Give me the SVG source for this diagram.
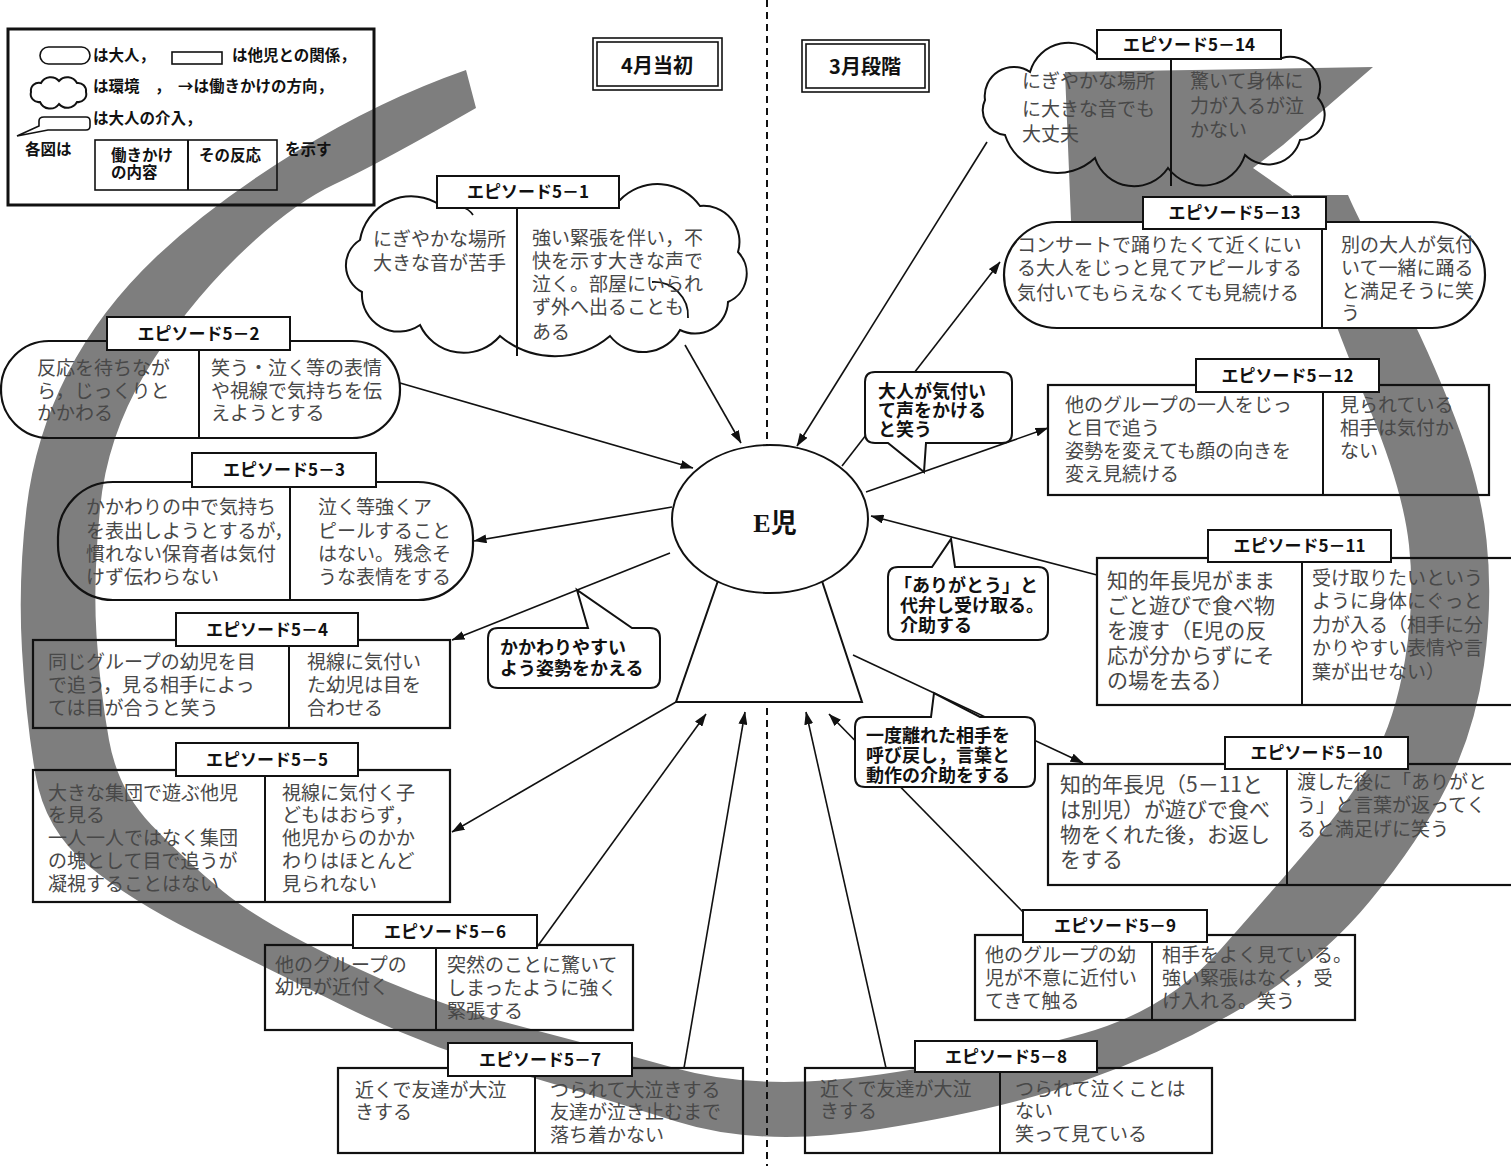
<svg xmlns="http://www.w3.org/2000/svg" width="1511" height="1166" viewBox="0 0 1511 1166">
<defs>
<style>
.body{font-family:"Noto Sans CJK JP","Noto Sans CJK SC",sans-serif;font-size:19px;fill:#484848}
.b21{font-size:21px}
.goth{font-family:"Noto Sans CJK JP","Noto Sans CJK SC",sans-serif;font-weight:700;fill:#111}
.lbl{font-size:17px;text-anchor:middle}
.call{font-size:18px}
.leg{font-size:15.5px}
.box{fill:none;stroke:#111;stroke-width:2.2}
.wbox{fill:#fff;stroke:#111;stroke-width:2.2}
.tag{fill:#fff;stroke:#111;stroke-width:2}
.thin{fill:none;stroke:#111;stroke-width:1.6}
.div{stroke:#111;stroke-width:2}
.cloud{fill:none;stroke:#111;stroke-width:2}
.crease{fill:none;stroke:#111;stroke-width:1.8}
#connectors line{stroke:#111;stroke-width:1.6;marker-end:url(#arr)}
</style>
<marker id="arr" viewBox="0 0 13 9" refX="12.5" refY="4.5" markerWidth="13" markerHeight="9" markerUnits="userSpaceOnUse" orient="auto">
<path d="M0,0 L13,4.5 L0,9 Z" fill="#111"/>
</marker>
</defs>

<rect width="1511" height="1166" fill="#fff"/>

<!-- large grey circular arrow running round the whole figure -->
<g id="cycle-arrow" fill="#7e7e7e">
<path d="M 466,70 Q 380,100 296.5,151.5 Q 213,203 156.5,256.5 Q 100,310 67.5,373.5 Q 35,437 26.5,508.5 Q 18,580 22,650 Q 26,720 35.5,775 Q 45,830 87.5,865 Q 130,900 195,932.5 Q 260,965 343.5,1006 Q 427,1047 510,1071 Q 593,1095 676.5,1121.5 Q 760,1148 880,1129 Q 1000,1110 1083.5,1081 Q 1167,1052 1243.5,1007 Q 1320,962 1370,901 Q 1420,840 1447.5,785 Q 1475,730 1484,665 Q 1493,600 1486.5,540 Q 1480,480 1450,405 Q 1420,330 1390,276.5 Q 1360,223 1348,195 L 1293,195 Q 1300,223 1318.5,276.5 Q 1337,330 1370,410 Q 1403,490 1409,545 Q 1415,600 1405,660 Q 1395,720 1372.5,760 Q 1350,800 1311.5,845 Q 1273,890 1220,950 Q 1167,1010 1083.5,1033.5 Q 1000,1057 880,1074.5 Q 760,1092 676.5,1068.5 Q 593,1045 510,1023.5 Q 427,1002 343.5,962 Q 260,922 222.5,891 Q 185,860 151.5,825 Q 118,790 109,740 Q 100,690 96.5,635 Q 93,580 100,508.5 Q 107,437 145,373.5 Q 183,310 236.5,257.5 Q 290,205 335,184 Q 380,163 476,108 Z"/>
<polygon points="1065,72 1373,67 1283,145 1253,168 1293,196 1330,232 1072,245"/>
</g>

<!-- dividing line between April and March -->
<line x1="767" y1="0" x2="767" y2="1166" stroke="#111" stroke-width="2" stroke-dasharray="7 5"/>

<!-- legend -->
<g id="legend">
<rect x="8" y="29" width="366" height="176" fill="none" stroke="#111" stroke-width="3"/>
<rect x="40" y="47" width="50" height="17" rx="8.5" class="thin" stroke-width="2"/>
<text x="93" y="61" class="goth leg">は大人，</text>
<rect x="172" y="52" width="50" height="12" class="thin" stroke-width="2"/>
<text x="232" y="61" class="goth leg">は他児との関係，</text>
<path class="cloud" d="M 41,83 A 11 11 0 0 1 59,81 A 11 11 0 0 1 77,83 A 8 8 0 0 1 86,92 A 8 8 0 0 1 77,102 A 11 11 0 0 1 59,104 A 11 11 0 0 1 40,102 A 8 8 0 0 1 31,92 A 8 8 0 0 1 41,83 Z"/>
<text x="93" y="92" class="goth leg">は環境</text>
<text x="155" y="92" class="goth leg">，</text>
<text x="178" y="92" class="goth leg">→は働きかけの方向，</text>
<path class="thin" stroke-width="2" d="M 44,117 H 86 Q 90,117 90,121 V 126 Q 90,130 86,130 H 48 L 17,136 L 39,126 V 121 Q 39,117 44,117 Z"/>
<text x="93" y="124" class="goth leg">は大人の介入，</text>
<text x="25" y="155" class="goth leg">各図は</text>
<rect x="95" y="140" width="182" height="50" class="thin" stroke-width="2"/>
<line x1="188" y1="140" x2="188" y2="190" class="div"/>
<text class="goth leg"><tspan x="111" y="161">働きかけ</tspan><tspan x="111" y="178">の内容</tspan></text>
<text x="199" y="161" class="goth leg">その反応</text>
<text x="285" y="155" class="goth leg">を示す</text>
</g>

<!-- period headings -->
<g id="month-april">
<rect x="593" y="38" width="129" height="52" class="thin"/>
<rect x="597" y="42" width="121" height="44" class="thin"/>
<text x="657" y="73" class="goth" font-size="20" text-anchor="middle">4月当初</text>
</g>
<g id="month-march">
<rect x="802" y="40" width="127" height="52" class="thin"/>
<rect x="806" y="44" width="119" height="44" class="thin"/>
<text x="865" y="74" class="goth" font-size="20" text-anchor="middle">3月段階</text>
</g>

<!-- arrows: direction of each approach -->
<g id="connectors">
<line x1="685" y1="345" x2="741" y2="443"/>
<line x1="987" y1="142" x2="797" y2="446"/>
<line x1="400" y1="383" x2="693" y2="468"/>
<line x1="672" y1="507" x2="474" y2="541"/>
<line x1="670" y1="553" x2="452" y2="640"/>
<line x1="676" y1="702" x2="452" y2="832"/>
<line x1="537" y1="947" x2="706" y2="714"/>
<line x1="684" y1="1068" x2="745" y2="712"/>
<line x1="886" y1="1068" x2="806" y2="712"/>
<line x1="1023" y1="912" x2="829" y2="714"/>
<line x1="853" y1="655" x2="1083" y2="763"/>
<line x1="1097" y1="575" x2="871" y2="516"/>
<line x1="866" y1="492" x2="1048" y2="428"/>
<line x1="842" y1="466" x2="1000" y2="262"/>
</g>

<!-- the child at the centre -->
<g id="child-e">
<polygon points="720,575 820,575 862,702 676,702" fill="#fff" stroke="#111" stroke-width="2"/>
<ellipse cx="770" cy="519" rx="98" ry="74" fill="#fff" stroke="#111" stroke-width="2"/>
<text x="775" y="532" font-family="'Liberation Serif','Noto Sans CJK JP',serif" font-weight="700" font-size="26" text-anchor="middle" fill="#111">E児</text>
</g>

<!-- adult interventions -->
<g id="callout-notice">
<path class="tag" d="M 875,372 H 1002 Q 1012,372 1012,382 V 433 Q 1012,443 1002,443 H 926 L 924,472 L 888,443 H 875 Q 865,443 865,433 V 382 Q 865,372 875,372 Z"/>
<text class="goth call"><tspan x="878" y="398">大人が気付い</tspan><tspan x="878" y="417">て声をかける</tspan><tspan x="878" y="436">と笑う</tspan></text>
</g>
<g id="callout-thanks">
<path class="tag" d="M 898,567 H 932 L 951,539 L 955,567 H 1038 Q 1048,567 1048,577 V 630 Q 1048,640 1038,640 H 898 Q 888,640 888,630 V 577 Q 888,567 898,567 Z"/>
<text class="goth call"><tspan x="894" y="592">「ありがとう」と</tspan><tspan x="900" y="612">代弁し受け取る。</tspan><tspan x="900" y="632">介助する</tspan></text>
</g>
<g id="callout-posture">
<path class="tag" d="M 498,628 H 588 L 577,590 L 632,628 H 650 Q 660,628 660,638 V 678 Q 660,688 650,688 H 498 Q 488,688 488,678 V 638 Q 488,628 498,628 Z"/>
<text class="goth call"><tspan x="500" y="654">かかわりやすい</tspan><tspan x="500" y="675">よう姿勢をかえる</tspan></text>
</g>
<g id="callout-recall">
<path class="tag" d="M 865,717 H 931 L 934,693 L 980,717 H 1025 Q 1035,717 1035,727 V 777 Q 1035,787 1025,787 H 865 Q 855,787 855,777 V 727 Q 855,717 865,717 Z"/>
<text class="goth call"><tspan x="866" y="742">一度離れた相手を</tspan><tspan x="866" y="762">呼び戻し，言葉と</tspan><tspan x="866" y="782">動作の介助をする</tspan></text>
</g>

<!-- episode 5-1 : environment -->
<g id="ep5-1">
<path class="cloud" d="M 440,205 L 620,200 A 52 52 0 0 1 700,206 A 36 36 0 0 1 738,252 A 31 31 0 0 1 728,302 A 33 33 0 0 1 680,330 A 42 42 0 0 1 610,336 A 85 85 0 0 1 500,336 A 48 48 0 0 1 420,325 A 37 37 0 0 1 362,292 A 30 30 0 0 1 360,240 A 52 52 0 0 1 440,205 Z"/>
<path class="crease" d="M 652,282 A 34 34 0 0 1 688,318"/>
<path class="crease" d="M 462,207 Q 469,209 473,215"/>
<line x1="517" y1="208" x2="517" y2="356" class="div"/>
<rect x="437" y="176" width="182" height="32" class="tag"/>
<text x="528" y="198" class="goth lbl">エピソード5－1</text>
<text class="body"><tspan x="373" y="246">にぎやかな場所</tspan><tspan x="373" y="270">大きな音が苦手</tspan></text>
<text class="body"><tspan x="532" y="245">強い緊張を伴い，不</tspan><tspan x="532" y="268">快を示す大きな声で</tspan><tspan x="532" y="291">泣く。部屋にいられ</tspan><tspan x="532" y="314">ず外へ出ることも</tspan><tspan x="532" y="339">ある</tspan></text>
</g>

<!-- episode 5-2 : adult -->
<g id="ep5-2">
<rect x="1" y="341" width="399" height="97" rx="48" class="box"/>
<line x1="199" y1="341" x2="199" y2="438" class="div"/>
<rect x="107" y="317" width="183" height="33" class="tag"/>
<text x="198.5" y="340" class="goth lbl">エピソード5－2</text>
<text class="body"><tspan x="37" y="375">反応を待ちなが</tspan><tspan x="37" y="398">ら，じっくりと</tspan><tspan x="37" y="420">かかわる</tspan></text>
<text class="body"><tspan x="211" y="375">笑う・泣く等の表情</tspan><tspan x="211" y="398">や視線で気持ちを伝</tspan><tspan x="211" y="420">えようとする</tspan></text>
</g>

<!-- episode 5-3 : adult -->
<g id="ep5-3">
<rect x="58" y="482" width="415" height="118" rx="55" class="box"/>
<line x1="290" y1="482" x2="290" y2="600" class="div"/>
<rect x="192" y="453" width="184" height="34" class="tag"/>
<text x="284" y="476" class="goth lbl">エピソード5－3</text>
<text class="body"><tspan x="86" y="514">かかわりの中で気持ち</tspan><tspan x="86" y="538">を表出しようとするが，</tspan><tspan x="86" y="561">慣れない保育者は気付</tspan><tspan x="86" y="584">けず伝わらない</tspan></text>
<text class="body"><tspan x="318" y="514">泣く等強くア</tspan><tspan x="318" y="538">ピールすること</tspan><tspan x="318" y="561">はない。残念そ</tspan><tspan x="318" y="584">うな表情をする</tspan></text>
</g>

<!-- episode 5-4 : other children -->
<g id="ep5-4">
<rect x="33" y="640" width="417" height="88" class="box"/>
<line x1="289" y1="640" x2="289" y2="728" class="div"/>
<rect x="176" y="613" width="182" height="33" class="tag"/>
<text x="267" y="636" class="goth lbl">エピソード5－4</text>
<text class="body"><tspan x="48" y="669">同じグループの幼児を目</tspan><tspan x="48" y="692">で追う，見る相手によっ</tspan><tspan x="48" y="715">ては目が合うと笑う</tspan></text>
<text class="body"><tspan x="307" y="669">視線に気付い</tspan><tspan x="307" y="692">た幼児は目を</tspan><tspan x="307" y="715">合わせる</tspan></text>
</g>

<!-- episode 5-5 : other children -->
<g id="ep5-5">
<rect x="33" y="770" width="417" height="132" class="box"/>
<line x1="265" y1="770" x2="265" y2="902" class="div"/>
<rect x="176" y="743" width="182" height="33" class="tag"/>
<text x="267" y="766" class="goth lbl">エピソード5－5</text>
<text class="body"><tspan x="48" y="800">大きな集団で遊ぶ他児</tspan><tspan x="48" y="822">を見る</tspan><tspan x="48" y="845">一人一人ではなく集団</tspan><tspan x="48" y="868">の塊として目で追うが</tspan><tspan x="48" y="891">凝視することはない</tspan></text>
<text class="body"><tspan x="282" y="800">視線に気付く子</tspan><tspan x="282" y="822">どもはおらず，</tspan><tspan x="282" y="845">他児からのかか</tspan><tspan x="282" y="868">わりはほとんど</tspan><tspan x="282" y="891">見られない</tspan></text>
</g>

<!-- episode 5-6 -->
<g id="ep5-6">
<rect x="265" y="945" width="368" height="85" class="box"/>
<line x1="436" y1="945" x2="436" y2="1030" class="div"/>
<rect x="353" y="915" width="184" height="33" class="tag"/>
<text x="445" y="938" class="goth lbl">エピソード5－6</text>
<text class="body"><tspan x="275" y="972">他のグループの</tspan><tspan x="275" y="994">幼児が近付く</tspan></text>
<text class="body"><tspan x="447" y="972">突然のことに驚いて</tspan><tspan x="447" y="995">しまったように強く</tspan><tspan x="447" y="1018">緊張する</tspan></text>
</g>

<!-- episode 5-7 -->
<g id="ep5-7">
<rect x="338" y="1068" width="405" height="85" class="box"/>
<line x1="535" y1="1068" x2="535" y2="1153" class="div"/>
<rect x="448" y="1043" width="184" height="33" class="tag"/>
<text x="540" y="1066" class="goth lbl">エピソード5－7</text>
<text class="body"><tspan x="355" y="1097">近くで友達が大泣</tspan><tspan x="355" y="1119">きする</tspan></text>
<text class="body"><tspan x="550" y="1097">つられて大泣きする</tspan><tspan x="550" y="1119">友達が泣き止むまで</tspan><tspan x="550" y="1142">落ち着かない</tspan></text>
</g>

<!-- episode 5-8 -->
<g id="ep5-8">
<rect x="805" y="1068" width="407" height="85" class="box"/>
<line x1="1000" y1="1068" x2="1000" y2="1153" class="div"/>
<rect x="915" y="1041" width="182" height="31" class="tag"/>
<text x="1006" y="1063" class="goth lbl">エピソード5－8</text>
<text class="body"><tspan x="820" y="1096">近くで友達が大泣</tspan><tspan x="820" y="1118">きする</tspan></text>
<text class="body"><tspan x="1015" y="1096">つられて泣くことは</tspan><tspan x="1015" y="1118">ない</tspan><tspan x="1015" y="1141">笑って見ている</tspan></text>
</g>

<!-- episode 5-9 -->
<g id="ep5-9">
<rect x="975" y="935" width="380" height="85" class="box"/>
<line x1="1152" y1="935" x2="1152" y2="1020" class="div"/>
<rect x="1023" y="910" width="184" height="32" class="tag"/>
<text x="1115" y="932" class="goth lbl">エピソード5－9</text>
<text class="body"><tspan x="985" y="962">他のグループの幼</tspan><tspan x="985" y="985">児が不意に近付い</tspan><tspan x="985" y="1008">てきて触る</tspan></text>
<text class="body"><tspan x="1162" y="962">相手をよく見ている。</tspan><tspan x="1162" y="985">強い緊張はなく，受</tspan><tspan x="1162" y="1008">け入れる。笑う</tspan></text>
</g>

<!-- episode 5-10 -->
<g id="ep5-10">
<rect x="1048" y="764" width="470" height="121" class="box"/>
<line x1="1287" y1="764" x2="1287" y2="885" class="div"/>
<rect x="1225" y="737" width="183" height="32" class="tag"/>
<text x="1316.5" y="759" class="goth lbl">エピソード5－10</text>
<text class="body b21"><tspan x="1060" y="792">知的年長児（5－11と</tspan><tspan x="1060" y="817">は別児）が遊びで食べ</tspan><tspan x="1060" y="842">物をくれた後，お返し</tspan><tspan x="1060" y="867">をする</tspan></text>
<text class="body"><tspan x="1297" y="789">渡した後に「ありがと</tspan><tspan x="1297" y="812">う」と言葉が返ってく</tspan><tspan x="1297" y="836">ると満足げに笑う</tspan></text>
</g>

<!-- episode 5-11 -->
<g id="ep5-11">
<rect x="1097" y="558" width="420" height="147" class="box"/>
<line x1="1302" y1="558" x2="1302" y2="705" class="div"/>
<rect x="1208" y="530" width="183" height="32" class="tag"/>
<text x="1299.5" y="552" class="goth lbl">エピソード5－11</text>
<text class="body b21"><tspan x="1107" y="588">知的年長児がまま</tspan><tspan x="1107" y="613">ごと遊びで食べ物</tspan><tspan x="1107" y="638">を渡す（E児の反</tspan><tspan x="1107" y="663">応が分からずにそ</tspan><tspan x="1107" y="688">の場を去る）</tspan></text>
<text class="body"><tspan x="1312" y="585">受け取りたいという</tspan><tspan x="1312" y="608">ように身体にぐっと</tspan><tspan x="1312" y="632">力が入る（相手に分</tspan><tspan x="1312" y="655">かりやすい表情や言</tspan><tspan x="1312" y="679">葉が出せない）</tspan></text>
</g>

<!-- episode 5-12 -->
<g id="ep5-12">
<rect x="1048" y="385" width="441" height="110" class="box"/>
<line x1="1323" y1="385" x2="1323" y2="495" class="div"/>
<rect x="1196" y="359" width="183" height="33" class="tag"/>
<text x="1287.5" y="382" class="goth lbl">エピソード5－12</text>
<text class="body"><tspan x="1065" y="412">他のグループの一人をじっ</tspan><tspan x="1065" y="435">と目で追う</tspan><tspan x="1065" y="458">姿勢を変えても顔の向きを</tspan><tspan x="1065" y="481">変え見続ける</tspan></text>
<text class="body"><tspan x="1340" y="412">見られている</tspan><tspan x="1340" y="435">相手は気付か</tspan><tspan x="1340" y="458">ない</tspan></text>
</g>

<!-- episode 5-13 : adult -->
<g id="ep5-13">
<rect x="1004" y="222" width="481" height="106" rx="53" class="wbox"/>
<line x1="1322" y1="222" x2="1322" y2="328" class="div"/>
<rect x="1143" y="197" width="183" height="32" class="tag"/>
<text x="1234.5" y="219" class="goth lbl">エピソード5－13</text>
<text class="body"><tspan x="1017" y="252">コンサートで踊りたくて近くにい</tspan><tspan x="1017" y="275">る大人をじっと見てアピールする</tspan><tspan x="1017" y="300">気付いてもらえなくても見続ける</tspan></text>
<text class="body"><tspan x="1341" y="252">別の大人が気付</tspan><tspan x="1341" y="275">いて一緒に踊る</tspan><tspan x="1341" y="298">と満足そうに笑</tspan><tspan x="1341" y="320">う</tspan></text>
</g>

<!-- episode 5-14 : environment -->
<g id="ep5-14">
<path class="cloud" d="M 1100,58 L 1282,58 A 30 30 0 0 1 1318,98 A 25 25 0 0 1 1300,140 A 33 33 0 0 1 1245,155 A 44 44 0 0 1 1168,168 A 41 41 0 0 1 1095,158 A 55 55 0 0 1 1005,135 A 25 25 0 0 1 985,100 A 29 29 0 0 1 1030,72 A 40 40 0 0 1 1100,58 Z"/>
<line x1="1171" y1="58" x2="1171" y2="186" class="div"/>
<rect x="1097" y="30" width="184" height="29" class="tag"/>
<text x="1189" y="51" class="goth lbl">エピソード5－14</text>
<text class="body"><tspan x="1022" y="88">にぎやかな場所</tspan><tspan x="1022" y="116">に大きな音でも</tspan><tspan x="1022" y="141">大丈夫</tspan></text>
<text class="body"><tspan x="1190" y="88">驚いて身体に</tspan><tspan x="1190" y="113">力が入るが泣</tspan><tspan x="1190" y="137">かない</tspan></text>
</g>
</svg>
